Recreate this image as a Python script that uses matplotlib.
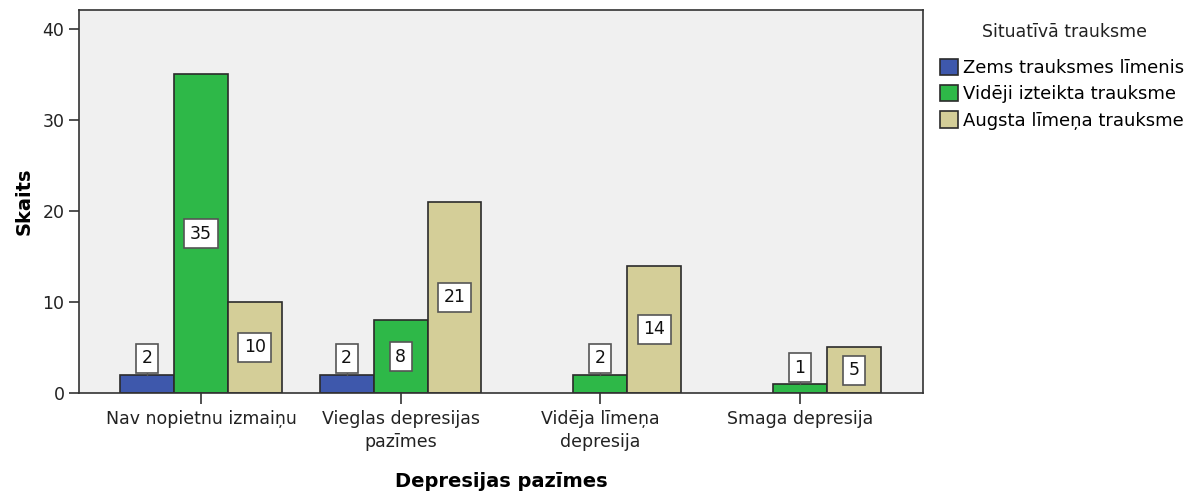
import numpy as np
import matplotlib
matplotlib.use('Agg')
import matplotlib.pyplot as plt

categories = ['Nav nopietnu izmaiņu', 'Vieglas depresijas\npazīmes',
              'Vidēja līmeņa\ndepresija', 'Smaga depresija']
series = ['Zems trauksmes līmenis', 'Vidēji izteikta trauksme', 'Augsta līmeņa trauksme']
zems = [2, 2, 0, 0]
videji = [35, 8, 2, 1]
augsta = [10, 21, 14, 5]
colors = ['#3e58ac', '#2eb848', '#d4ce98']

plt.rcParams['font.family'] = ['DejaVu Sans']

fig = plt.figure(figsize=(11.97, 4.93), dpi=100)
ax = fig.add_axes([0.066, 0.203, 0.705, 0.777])
ax.set_facecolor('#f0f0f0')

x = np.arange(len(categories))
w = 0.27
for i, (vals, name, col) in enumerate(zip([zems, videji, augsta], series, colors)):
    xs = x + (i - 1) * w
    for xi, v in zip(xs, vals):
        if v == 0:
            continue
        ax.bar(xi, v, width=w, color=col, edgecolor='#2b2b2b', linewidth=1.2, zorder=2)
        box = dict(boxstyle='square,pad=0.32', fc='white', ec='#555555', lw=1.2)
        if v >= 4:
            ax.text(xi, v / 2, str(v), ha='center', va='center', fontsize=12.5,
                    color='#111111', bbox=box, zorder=4)
        else:
            ax.plot([xi, xi], [v, v + 0.5], color='#555555', lw=1, zorder=3)
            ax.text(xi, v + 0.8, str(v), ha='center', va='bottom', fontsize=12.5,
                    color='#111111', bbox=box, zorder=4)
    ax.bar(0, 0, color=col, edgecolor='#2b2b2b', linewidth=1.2, label=name)

ax.set_xlim(-0.611, 3.616)
ax.set_ylim(0, 42.1)
ax.set_yticks([0, 10, 20, 30, 40])
ax.set_xticks(x)
ax.set_xticklabels(categories, fontsize=12.5, linespacing=1.4)
ax.tick_params(axis='y', labelsize=12.5, length=7, width=1.2, color='#333333', labelcolor='#222222')
ax.tick_params(axis='x', length=8, width=1.2, color='#333333', labelcolor='#222222', pad=4)
for s in ax.spines.values():
    s.set_color('#333333')
    s.set_linewidth(1.2)

ax.set_ylabel('Skaits', fontsize=14, fontweight='bold', labelpad=6)
ax.set_xlabel('Depresijas pazīmes', fontsize=14, fontweight='bold', labelpad=15)

fig.text(0.889, 0.935, 'Situatīvā trauksme', fontsize=12.5, color='#222222',
         ha='center', va='center')
handles, labels = ax.get_legend_handles_labels()
leg = fig.legend(handles, labels, loc='upper left', bbox_to_anchor=(0.785, 0.881),
                 frameon=False, fontsize=13, borderpad=0, borderaxespad=0,
                 handlelength=1.0, handleheight=1.0, handletextpad=0.3,
                 labelspacing=0.45)

fig.savefig('out.png', dpi=100)
